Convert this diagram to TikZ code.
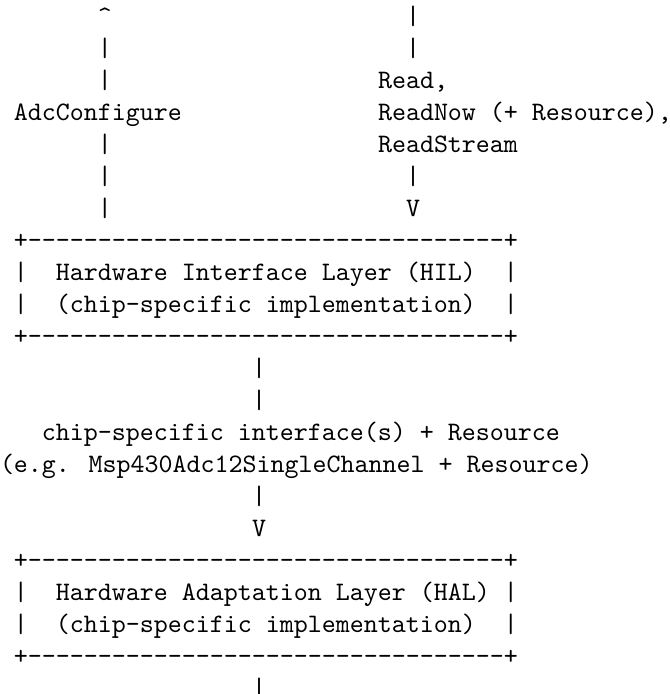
\documentclass[tikz,border=0pt]{standalone}
\usepackage{tikz}

\begin{document}
\begin{tikzpicture}[x=5.25pt, y=12pt,
    mono/.style={anchor=base west, inner sep=0pt, outer sep=0pt, font=\ttfamily}]
    \useasboundingbox (0,-0.25) rectangle (47.857,-21.9375);
    \node[mono] (cfgTip) at (7,-1) {\textasciicircum};
    \node[mono] (rdTop1) at (29,-1) {|};
    \node[mono] (cfgL1) at (7,-2) {|};
    \node[mono] (rdTop2) at (29,-2) {|};
    \node[mono] (cfgL2) at (7,-3) {|};
    \node[mono] (rdName1) at (27,-3) {Read,};
    \node[mono] (cfgName) at (1,-4) {AdcConfigure};
    \node[mono] (rdName2) at (27,-4) {ReadNow (+ Resource),};
    \node[mono] (cfgL3) at (7,-5) {|};
    \node[mono] (rdName3) at (27,-5) {ReadStream};
    \node[mono] (cfgL4) at (7,-6) {|};
    \node[mono] (rdBot1) at (29,-6) {|};
    \node[mono] (cfgL5) at (7,-7) {|};
    \node[mono] (rdTip) at (29,-7) {V};
    \node[mono] (hilTop) at (1,-8) {+----------------------------------+};
    \node[mono] (hilName) at (1,-9) {|~~Hardware Interface Layer (HIL)~~|};
    \node[mono] (hilSub) at (1,-10) {|~~(chip-specific implementation)~~|};
    \node[mono] (hilBot) at (1,-11) {+----------------------------------+};
    \node[mono] (ifL1) at (18,-12) {|};
    \node[mono] (ifL2) at (18,-13) {|};
    \node[mono] (ifName) at (3,-14) {chip-specific interface(s) + Resource};
    \node[mono] (ifEx) at (0,-15) {(e.g. Msp430Adc12SingleChannel + Resource)};
    \node[mono] (ifL3) at (18,-16) {|};
    \node[mono] (ifTip) at (18,-17) {V};
    \node[mono] (halTop) at (1,-18) {+----------------------------------+};
    \node[mono] (halName) at (1,-19) {|~~Hardware Adaptation Layer (HAL)~|};
    \node[mono] (halSub) at (1,-20) {|~~(chip-specific implementation)~~|};
    \node[mono] (halBot) at (1,-21) {+----------------------------------+};
    \node[mono] (halOut) at (18,-22) {|};
\end{tikzpicture}
\end{document}
